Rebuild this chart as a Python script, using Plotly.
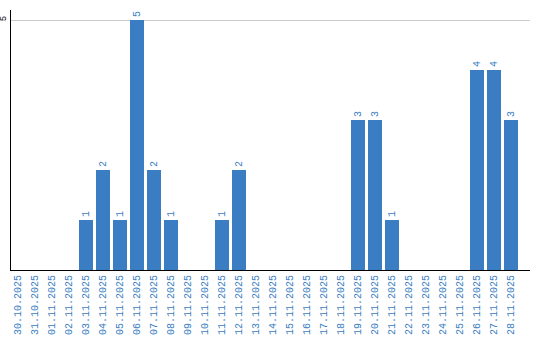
import plotly.graph_objects as go

dates = ["30.10.2025", "31.10.2025", "01.11.2025", "02.11.2025", "03.11.2025",
         "04.11.2025", "05.11.2025", "06.11.2025", "07.11.2025", "08.11.2025",
         "09.11.2025", "10.11.2025", "11.11.2025", "12.11.2025", "13.11.2025",
         "14.11.2025", "15.11.2025", "16.11.2025", "17.11.2025", "18.11.2025",
         "19.11.2025", "20.11.2025", "21.11.2025", "22.11.2025", "23.11.2025",
         "24.11.2025", "25.11.2025", "26.11.2025", "27.11.2025", "28.11.2025"]
counts = [0, 0, 0, 0, 1, 2, 1, 5, 2, 1, 0, 0, 1, 2, 0,
          0, 0, 0, 0, 0, 3, 3, 1, 0, 0, 0, 0, 4, 4, 3]

labels = [str(v) if v else "" for v in counts]
BLUE = "#3a7dc2"

fig = go.Figure(go.Bar(
    x=list(range(len(dates))), y=counts,
    width=14 / 17,
    marker=dict(color=BLUE, line=dict(width=0)),
    text=labels, textposition="outside", textangle=-90,
    textfont=dict(family="Liberation Mono", size=10, color=BLUE),
    cliponaxis=False,
))

fig.update_layout(
    width=540, height=340,
    margin=dict(l=11, r=10, t=10, b=70),
    plot_bgcolor="white", paper_bgcolor="white",
    showlegend=False, bargap=0,
    xaxis=dict(
        range=[-0.41, 30.12], automargin=False,
        tickmode="array", tickvals=list(range(len(dates))), ticktext=dates,
        tickangle=-90, ticks="", showgrid=False, zeroline=False,
        showline=True, linecolor="black", linewidth=1,
        tickfont=dict(family="Liberation Mono", size=10, color=BLUE),
    ),
    yaxis=dict(
        range=[0, 5.2], tickvals=[5], ticktext=["5"], tickangle=-90,
        automargin=False,
        showgrid=True, gridcolor="#cccccc", zeroline=False,
        showline=True, linecolor="black", linewidth=1, ticks="",
        tickfont=dict(family="Liberation Mono", size=9, color="black"),
    ),
)

fig.write_html("out.html")
